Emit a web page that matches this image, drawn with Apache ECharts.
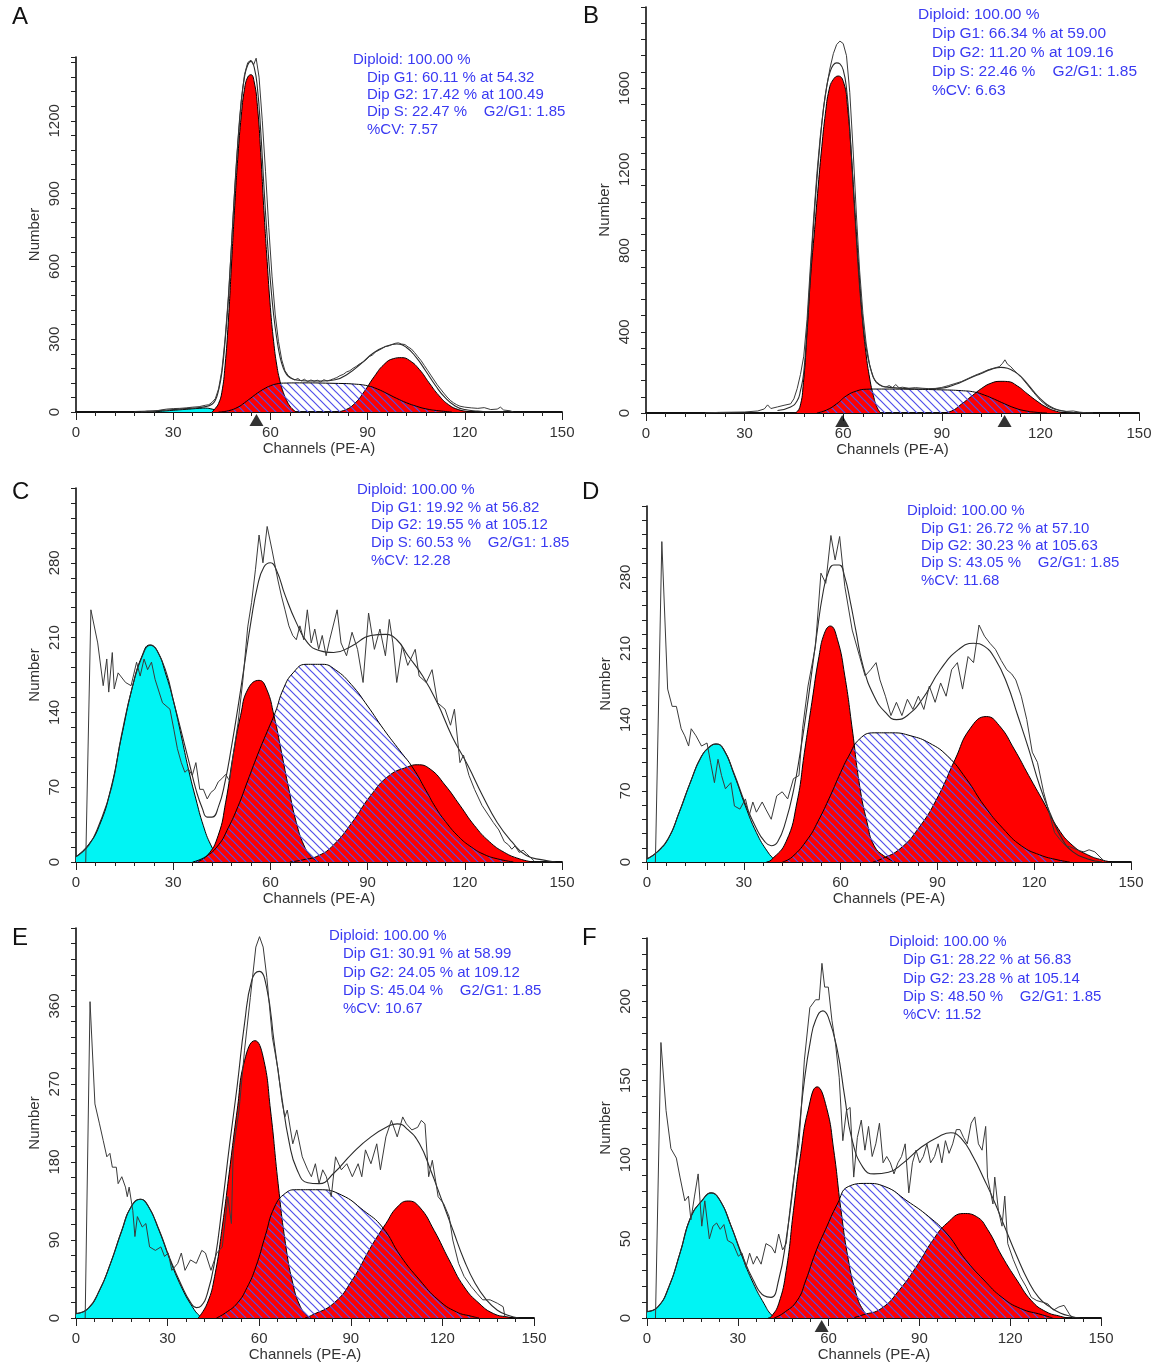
<!DOCTYPE html>
<html><head><meta charset="utf-8">
<script src="https://cdn.jsdelivr.net/npm/echarts@6/dist/echarts.min.js"></script>
<style>html,body{margin:0;padding:0;background:#fff}#c{width:1156px;height:1364px}</style>
</head><body><div id="c"></div>
<script>
// ---------------- DATA (channel, count) ----------------
const xTicks = [0, 30, 60, 90, 120, 150];

// Panel A
const A_debris = [[22,0],[26,3],[30,7],[34,11],[38,15],[40,16],[42,12],[44,5],[46,0]];
const A_g1 = [[42,0],[43,15],[44,35],[45,80],[46,190],[47,370],[48,610],[49,850],[50,1060],[51,1220],[52,1330],[53,1380],[54,1390],[55,1360],[56,1260],[57,1070],[58,830],[59,620],[60,430],[61,290],[62,190],[63,125],[64,80],[65,48],[66,25],[67,10],[68,0]];
const A_s = [[44,0],[47,5],[50,20],[52,38],[54,58],[56,78],[58,95],[60,108],[62,116],[64,119],[70,120],[80,118],[86,115],[90,108],[93,95],[96,76],[99,56],[102,38],[105,24],[108,13],[112,5],[116,0]];
const A_g2 = [[80,0],[83,8],[86,35],[89,85],[92,145],[95,195],[98,220],[100.5,224],[103,212],[106,175],[109,120],[112,68],[115,30],[118,10],[121,2],[123,0]];
const A_fit = [[18,2],[24,5],[30,10],[36,16],[40,22],[42,32],[43,48],[44,90],[45,160],[46,290],[47,460],[48,690],[49,920],[50,1120],[51,1280],[52,1380],[53,1430],[54,1445],[55,1420],[56,1335],[57,1160],[58,930],[59,720],[60,540],[61,400],[62,300],[63,225],[64,180],[65,155],[66,142],[68,132],[72,128],[76,128],[80,133],[84,158],[88,200],[92,245],[96,272],[99,280],[102,266],[105,225],[108,168],[111,108],[114,58],[117,25],[120,10],[124,4],[128,1],[132,0]];
const A_raw = [[20,0],[22,3],[24,2],[26,8],[28,12],[30,14],[32,15],[34,17],[36,20],[38,22],[40,28],[41,30],[42,40],[43,55],[44,95],[45,170],[46,300],[47,470],[48,690],[49,920],[50,1120],[51,1280],[52,1390],[53,1440],[54,1450],[54.8,1430],[55.6,1458],[56.5,1380],[57.5,1200],[58.5,990],[59.5,760],[60.5,560],[61.5,400],[62.5,290],[63.5,215],[64.5,170],[65.5,150],[66.5,140],[67.5,132],[68.5,138],[69.5,128],[70.5,135],[71.5,125],[72.5,132],[73.5,127],[74.5,131],[75.5,124],[76.5,133],[77.5,128],[78.5,132],[79.5,137],[80.5,142],[81.5,150],[82.5,155],[83.5,165],[84.5,170],[85.5,180],[86.5,188],[87.5,198],[88.5,205],[89.5,215],[90.5,228],[91.5,235],[92.5,248],[93.5,255],[94.5,262],[95.5,270],[96.5,272],[97.5,278],[98.5,283],[99.5,285],[100.5,280],[101.5,278],[102.5,268],[103.5,260],[104.5,245],[105.5,228],[106.5,212],[107.5,192],[108.5,172],[109.5,152],[110.5,132],[111.5,112],[112.5,95],[113.5,78],[114.5,62],[115.5,48],[116.5,38],[117.5,30],[118.5,24],[120,20],[122,17],[124,15],[126,18],[128,10],[130,12],[131,20],[132,8],[134,5],[135,0]];
const A_marks = [55.7];
const A_text = ["Diploid: 100.00 %","Dip G1: 60.11 % at 54.32","Dip G2: 17.42 % at 100.49","Dip S: 22.47 %    G2/G1: 1.85","%CV: 7.57"];

// Panel B
const B_debris = [];
const B_g1 = [[45.5,0],[46.8,28],[47.9,150],[49,396],[50.1,675],[51.3,904],[52.4,1117],[53.5,1313],[54.6,1477],[55.7,1592],[56.9,1641],[58.5,1660],[60.2,1625],[61.3,1510],[62.5,1264],[63.6,986],[64.7,724],[65.8,478],[66.9,298],[68.1,167],[69.2,85],[70.3,28],[71.4,0]];
const B_s = [[52,0],[55,15],[58,45],[61,85],[64,108],[67,117],[70,118],[80,117],[90,114],[96,110],[100,103],[103,88],[106,68],[109,46],[112,26],[115,12],[119,3],[122,0]];
const B_g2 = [[90,0],[93,10],[96,44],[99,82],[102,120],[105,147],[108,156],[110,155],[113,133],[116,95],[119,58],[122,27],[125,8],[128,0]];
const B_fit = [[40,12],[44,30],[46,60],[47,110],[48,200],[49,420],[50,680],[51,930],[52,1150],[53,1340],[54,1500],[55,1610],[56,1680],[57,1715],[58,1725],[59,1720],[60,1690],[61,1600],[62,1400],[63,1130],[64,860],[65,620],[66,440],[67,320],[68,240],[69,185],[70,155],[72,132],[75,125],[80,120],[85,118],[90,122],[94,140],[98,168],[102,195],[105,215],[108,225],[110,220],[112,205],[114,180],[116,145],[118,105],[120,70],[122,42],[124,24],[126,13],[128,6],[132,1]];
const B_raw = [[18,0],[22,3],[26,4],[30,5],[34,10],[36,20],[37,40],[38,22],[40,30],[42,38],[44,45],[45,70],[46,120],[47,190],[48,280],[49,460],[50,720],[51,960],[52,1180],[53,1360],[54,1500],[55,1610],[56,1700],[57,1770],[58,1815],[59,1832],[60,1820],[61,1760],[62,1580],[63,1300],[64,980],[65,700],[66,490],[67,340],[68,240],[69,180],[70,150],[71,138],[72,130],[73,128],[74,135],[75,125],[76,140],[77,124],[78,127],[80,122],[82,125],[84,122],[86,120],[88,121],[90,126],[92,135],[94,145],[96,155],[98,170],[100,185],[102,198],[104,212],[106,222],[107.5,228],[108.5,245],[109.2,262],[110,240],[111,228],[112,210],[114,180],[116,140],[118,100],[120,62],[122,35],[124,20],[126,12],[128,8],[130,10],[132,4],[134,1],[136,0]];
const B_marks = [59.7, 109.1];
const B_text = ["Diploid: 100.00 %","Dip G1: 66.34 % at 59.00","Dip G2: 11.20 % at 109.16","Dip S: 22.46 %    G2/G1: 1.85","%CV: 6.63"];

// Panel C
const C_debris = [[0,5],[3.8,16],[7.2,34],[10.7,68],[14.1,118],[17.5,165],[20.4,193],[22.7,203],[25,198],[27.9,174],[30.2,149],[32.5,118],[34.7,87],[37,59],[39.3,34],[41.6,16],[43.9,5],[46,0]];
const C_g1 = [[37,0],[40.5,6],[43.9,25],[46.2,56],[48.5,100],[50.8,137],[53.1,162],[56.5,170],[58.8,162],[61.1,137],[63.4,103],[65.7,68],[68,37],[70.3,16],[72.6,5],[75,0]];
const C_s = [[36,0],[40,5],[44,16],[47,32],[50,52],[53,76],[56,100],[59,122],[61.5,140],[64,162],[67,177],[71,185],[76,185],[80,180],[85,166],[90,146],[95,124],[100,104],[104,88],[108,67],[111,51],[114,38],[118,24],[122,14],[126,7],[130,3],[135,0]];
const C_g2 = [[66,0],[70,2],[74.9,6],[79.5,16],[85.2,37],[90.9,62],[96.7,81],[102.4,89],[105.3,91],[109.3,87],[113.9,72],[118.5,53],[123,34],[127.6,19],[132.2,9],[136.8,3],[141,0]];
const C_fit = [[0,5],[4,16],[7,34],[11,70],[14,118],[17.5,165],[20.5,193],[23,203],[25,198],[28,176],[30,152],[32.5,122],[35,92],[37,68],[39,50],[40.5,42],[42,42],[44,52],[46,75],[48,108],[50,145],[52,185],[54,225],[56,258],[58,276],[60,280],[62,272],[64.5,250],[68,224],[71.5,205],[75,198],[79.5,196],[85,202],[91,212],[95.5,213],[99,208],[102.5,193],[107,174],[111.5,149],[116,118],[121,90],[125.5,62],[130,37],[134.5,19],[139,6],[144,2],[148,0]];
const C_raw = [[3,0],[4.6,236],[6.7,205],[8.4,165],[9.5,190],[10.1,159],[11.2,196],[11.8,162],[13,177],[15.3,168],[17,165],[18.7,187],[19.8,174],[21,190],[22.1,180],[23.3,187],[24.4,171],[26.7,149],[29,143],[30.2,124],[31.3,106],[32.5,93],[33.6,84],[34.7,87],[35.9,81],[37,93],[38.2,68],[39.3,68],[40.5,59],[41.6,65],[42.8,68],[43.9,75],[45,78],[46.2,82],[47.4,76],[48.5,100],[50,130],[51.5,170],[53,220],[54.2,243],[55.4,274],[56.5,306],[57.7,280],[59,314],[60.5,292],[62.3,264],[63.4,249],[64.5,236],[65.7,221],[66.9,212],[68,208],[69.1,221],[70.3,208],[71.4,236],[72.6,205],[73.7,218],[74.9,199],[76,212],[77.2,193],[78.3,208],[80.6,236],[81.8,205],[83.5,193],[85.2,215],[86.9,199],[88.6,168],[90.3,233],[92.1,199],[93.8,218],[95.5,193],[96.7,227],[97.8,205],[99,168],[100.7,202],[102.4,184],[104.7,199],[105.9,174],[108.1,168],[109.9,180],[111.6,149],[113.9,143],[115.6,128],[116.8,143],[118.5,93],[119.6,100],[121.3,81],[123,68],[125.3,53],[128.8,37],[130.5,30],[132.2,19],[133.5,16],[134.5,12],[135.5,15],[136.8,9],[138,11],[139,8],[141.4,1]];
const C_marks = [];
const C_text = ["Diploid: 100.00 %","Dip G1: 19.92 % at 56.82","Dip G2: 19.55 % at 105.12","Dip S: 60.53 %    G2/G1: 1.85","%CV: 12.28"];

// Panel D
const D_debris = [[0,3],[3.2,10],[6.6,23],[10,49],[13.4,78],[16.9,104],[19.7,114],[21.4,116],[23.7,111],[27.1,85],[30.5,55],[33.9,29],[37.4,10],[39.7,2],[41,0]];
const D_g1 = [[37,0],[38.5,2],[43.1,20],[46.5,59],[48.8,108],[51.1,157],[53.3,202],[55,225],[56.8,232],[59,219],[61.3,183],[63.6,131],[65.9,75],[68.2,39],[70.4,16],[73.9,5],[77,0]];
const D_s = [[42,0],[45,5],[49.9,23],[53,40],[56.8,65],[60,88],[62.5,104],[65.9,121],[70.4,127],[76.1,127],[81.8,124],[87.5,117],[93.2,104],[98.9,82],[104.6,55],[110.3,33],[116,16],[121.7,7],[127.4,2],[131,0]];
const D_g2 = [[70,0],[72.7,3],[78.4,13],[84.1,33],[89.8,62],[95.5,101],[100.1,131],[105.2,143],[109.2,134],[113.8,111],[118.3,85],[122.9,59],[127.4,33],[132,16],[136.6,7],[141,2],[144,0]];
const D_fit = [[0,3],[3.2,10],[6.6,23],[10,49],[13.4,78],[16.9,104],[19.7,114],[21.4,116],[23.7,111],[27.1,86],[30.5,57],[33.9,33],[36.5,20],[38.5,16],[40.5,20],[43,40],[45.5,72],[47.6,110],[49.5,150],[51,185],[52.8,228],[54.4,262],[56,283],[57.9,292],[59.6,292],[61.3,280],[63,256],[64.7,228],[67,192],[70.4,163],[73.9,147],[77.3,140],[80.7,144],[85.3,160],[90.9,189],[96.6,209],[101.2,215],[104.6,212],[108,199],[111.5,176],[114.9,144],[118.3,111],[121.7,75],[125.2,46],[128.6,23],[132,10],[136.6,3],[141,0]];
const D_raw = [[2.6,0],[4.6,315],[6.4,170],[7.8,153],[9.1,153],[10.6,131],[11.7,124],[12.9,114],[13.7,131],[15.2,124],[16.9,114],[18.6,117],[19.7,98],[20.9,78],[22,101],[23.1,85],[24.3,72],[26,78],[27.1,55],[28.8,52],[30.5,62],[31.7,46],[32.8,59],[33.9,49],[35.7,59],[36.8,52],[38.5,42],[40.2,65],[41.9,69],[43.6,62],[45.4,82],[47.1,85],[48.2,131],[49.9,173],[52.2,212],[53.9,284],[55.4,274],[57,321],[58.3,297],[59.7,320],[61.3,271],[63.6,228],[65.9,202],[67.6,183],[69.3,189],[71,196],[72.2,179],[73.9,163],[75.6,144],[77.3,157],[79,144],[80.7,160],[82.4,150],[84.1,163],[85.8,150],[87.5,173],[89.3,157],[91,176],[92.7,163],[94.4,189],[96.2,196],[97.8,170],[99.5,202],[101.2,196],[102.9,233],[104.6,222],[106.3,215],[108,209],[109.8,198],[111.5,189],[113,185],[114.3,179],[116,163],[117.7,140],[119.4,108],[121,98],[122.9,69],[124.5,50],[126.3,29],[128,22],[129.7,16],[131,15],[132.6,13],[134,11],[135.4,10],[137,12],[138.8,10],[141,3],[142,0]];
const D_marks = [];
const D_text = ["Diploid: 100.00 %","Dip G1: 26.72 % at 57.10","Dip G2: 30.23 % at 105.63","Dip S: 43.05 %    G2/G1: 1.85","%CV: 11.68"];

// Panel E
const E_debris = [[0,5],[4,11],[7.7,32],[11.3,63],[15,101],[18,128],[21.1,137],[23.5,130],[27.2,101],[30.8,67],[34.5,36],[38.1,13],[40.6,2],[42,0]];
const E_g1 = [[40,0],[43,17],[45.4,48],[47.9,105],[50.3,171],[52.8,240],[55.2,297],[58.6,320],[61.3,301],[63.7,240],[66.2,155],[68.6,86],[71,40],[73.5,13],[75.9,2],[77,0]];
const E_s = [[46,0],[49,6],[52.8,17],[56,35],[58.9,59],[62,95],[65,128],[68.6,144],[72.3,148],[79.6,148],[86.9,142],[94.2,124],[100.3,105],[106.4,71],[112.5,44],[118.6,21],[124.6,7],[129.5,2],[132,0]];
const E_g2 = [[75,0],[77.1,3],[84.4,17],[90.5,44],[96.6,82],[101.5,109],[105.2,128],[108.8,135],[112.5,128],[117.3,101],[122.2,67],[127.1,36],[132,17],[136.8,5],[141.7,1],[144,0]];
const E_fit = [[0,5],[4,11],[7.7,32],[11.3,63],[15,101],[18,128],[21.1,137],[23.5,130],[27.2,102],[30.8,68],[34.5,38],[37.5,18],[39.4,12],[41,14],[43,28],[45.4,65],[47.9,130],[50.3,200],[52.8,268],[55.2,340],[57.6,390],[60,400],[62.5,380],[64.9,318],[67.4,255],[69.8,203],[72.3,172],[75.9,156],[79.6,155],[84.4,167],[90.5,190],[96.6,209],[102.7,222],[105.2,224],[108.8,217],[112.5,201],[116.1,171],[119.8,136],[123.5,101],[127.1,67],[130.7,40],[134.4,21],[138,9],[141.7,3],[145,0]];
const E_raw = [[3,0],[4.6,365],[6.2,247],[7.7,224],[8.9,205],[10.1,186],[11.1,190],[11.9,174],[13.2,174],[13.8,155],[15,163],[16.2,151],[16.8,140],[17.4,151],[18.6,124],[19.3,94],[20.1,117],[21.7,105],[22.9,109],[24.1,82],[26,78],[27.8,82],[29,71],[30.2,75],[31.4,55],[33.3,63],[34.5,75],[35.7,55],[37.5,67],[39.4,63],[41.2,78],[42.4,75],[44.2,55],[46.1,75],[47.9,82],[49.7,140],[50.9,109],[51.5,194],[53.4,240],[55.2,309],[57.1,370],[58.9,428],[60.1,440],[61.3,428],[62.5,393],[64.3,324],[66.2,286],[67.4,251],[68.4,232],[69.2,240],[71,201],[72.3,217],[74.1,186],[75.9,171],[77.1,163],[78.4,178],[79.6,155],[80.8,171],[82,163],[83.6,140],[85,186],[86.9,171],[88.7,178],[90.5,163],[92.4,178],[93.6,163],[94.8,194],[96.6,178],[98.5,201],[99.7,171],[101.5,209],[103.3,228],[105.2,209],[107,232],[108.2,224],[110,217],[111.9,220],[113.1,228],[114.3,224],[115.5,163],[116.7,182],[118.6,140],[120.4,132],[122.2,117],[123.4,90],[125.3,63],[127.1,48],[129.5,36],[131.4,28],[133.2,21],[135.6,21],[138,17],[139.9,13],[140.5,1]];
const E_marks = [];
const E_text = ["Diploid: 100.00 %","Dip G1: 30.91 % at 58.99","Dip G2: 24.05 % at 109.12","Dip S: 45.04 %    G2/G1: 1.85","%CV: 10.67"];

// Panel F
const F_debris = [[0,4],[3.6,7],[7.3,20],[10.9,41],[14.5,64],[18.1,74],[21.2,79],[24.2,74],[27.8,58],[31.4,39],[35.1,22],[38.7,9],[41.1,2],[43,0]];
const F_g1 = [[40,0],[41.1,1],[43.5,9],[46,30],[48.4,68],[50.8,104],[53.2,131],[56.2,146],[59.3,133],[61.7,106],[64.1,68],[66.5,37],[69,16],[71.4,5],[73.8,0]];
const F_s = [[42,0],[45,3],[49.6,11],[52.5,24],[55.6,41],[59,56],[62.9,72],[66.5,83],[72.6,85],[78.6,83],[85.9,74],[93.1,64],[99.2,53],[105.2,37],[111.3,24],[117.3,13],[123.4,6],[130.6,2],[134,0]];
const F_g2 = [[68,0],[71.4,2],[77.4,6],[83.5,18],[89.5,34],[94.4,49],[99.2,60],[104.6,66],[108.9,64],[112.5,56],[117.3,39],[122.2,24],[127,11],[131.8,4],[136.7,1],[139,0]];
const F_fit = [[0,4],[3.6,7],[7.3,20],[10.9,41],[14.5,64],[18.1,74],[21.2,79],[24.2,74],[27.8,58],[31.4,40],[35.1,24],[38.7,14],[41,13],[43.5,24],[46,50],[48.4,85],[50.2,118],[52,150],[54,175],[55.7,188],[58.1,194],[59.9,190],[62.9,169],[65.3,140],[67.7,113],[71.4,95],[75,91],[79.8,92],[84.7,98],[90.7,108],[96.8,115],[100.4,117],[104,113],[107.7,102],[111.3,88],[114.9,73],[118.5,56],[122.2,39],[125.8,24],[129.4,13],[133.1,7],[136.7,3],[140.3,1],[143,0]];
const F_raw = [[2.8,0],[4.6,174],[6.3,131],[7.9,107],[9.7,101],[10.9,89],[12.5,74],[13.7,77],[14.5,62],[15.7,77],[16.9,91],[18.1,58],[19.1,74],[20.6,50],[21.8,58],[23,60],[24.2,56],[25.4,59],[26.6,49],[28.4,47],[30.2,39],[31.4,41],[32.7,32],[33.9,41],[35.1,34],[36.3,39],[37.7,34],[39.3,47],[41.1,45],[42.3,41],[43.5,53],[44.8,43],[46,47],[47.2,68],[48.4,87],[50.2,110],[52,163],[53.8,196],[55.7,201],[56.9,201],[57.8,224],[58.7,209],[59.9,209],[61.1,188],[62.3,173],[63.5,152],[64.7,112],[65.9,131],[67.1,133],[68.3,89],[69.5,114],[70.8,125],[72,106],[73.2,121],[74.4,102],[75.6,110],[76.8,123],[78,98],[79.2,102],[80.4,98],[81.6,91],[82.9,98],[84.1,102],[85.3,110],[86.5,79],[87.7,98],[88.9,106],[90.1,98],[91.3,102],[92.5,110],[93.7,98],[95,102],[96.2,110],[97.4,98],[98.6,112],[99.8,104],[101,110],[102.2,119],[103.4,119],[104.6,114],[105.8,110],[107.1,123],[108.3,127],[109.5,110],[110.7,106],[111.9,121],[112.5,89],[114.3,72],[114.9,89],[116.1,68],[117.3,58],[118.2,77],[119.2,47],[121,37],[123.4,26],[125.2,20],[127,13],[128.8,11],[130.6,10],[132.4,9],[134.3,5],[136.1,7],[137.8,8],[139.7,2],[140.9,0]];
const F_marks = [57.7];
const F_text = ["Diploid: 100.00 %","Dip G1: 28.22 % at 56.83","Dip G2: 23.28 % at 105.14","Dip S: 48.50 %    G2/G1: 1.85","%CV: 11.52"];

// ---------------- LAYOUT ----------------
const panels = [
  {id:'A', grid:{left:76, top:57, width:486, height:355}, ymax:1463, ystep:300, yminor:60,
   d:[A_debris,A_g1,A_s,A_g2,A_fit,A_raw], marks:A_marks, text:A_text, tx:353, ty:60, lh:17.4, fs:15, lx:12, ly:17},
  {id:'B', grid:{left:646, top:7, width:493, height:406}, ymax:2000, ystep:400, yminor:80,
   d:[B_debris,B_g1,B_s,B_g2,B_fit,B_raw], marks:B_marks, text:B_text, tx:918, ty:15, lh:19, fs:15.5, lx:583, ly:16},
  {id:'C', grid:{left:76, top:488, width:486, height:374}, ymax:350, ystep:70, yminor:14,
   d:[C_debris,C_g1,C_s,C_g2,C_fit,C_raw], marks:C_marks, text:C_text, tx:357, ty:490, lh:17.6, fs:15, lx:12, ly:492},
  {id:'D', grid:{left:647, top:506, width:484, height:356}, ymax:350, ystep:70, yminor:14,
   d:[D_debris,D_g1,D_s,D_g2,D_fit,D_raw], marks:D_marks, text:D_text, tx:907, ty:511, lh:17.4, fs:15, lx:582, ly:492},
  {id:'E', grid:{left:76, top:928, width:458, height:390}, ymax:450, ystep:90, yminor:18,
   d:[E_debris,E_g1,E_s,E_g2,E_fit,E_raw], marks:E_marks, text:E_text, tx:329, ty:936, lh:18.2, fs:15, lx:12, ly:938},
  {id:'F', grid:{left:647, top:938, width:454, height:380}, ymax:240, ystep:50, yminor:10,
   d:[F_debris,F_g1,F_s,F_g2,F_fit,F_raw], marks:F_marks, text:F_text, tx:889, ty:942, lh:18.2, fs:15, lx:582, ly:938}
];

const FONT = '"Liberation Sans", Arial, sans-serif';
const BLUE = '#3a3af2';
const RED = '#ff0000';
const CYAN = '#00f4f4';

function makeHatch(){
  const c = document.createElement('canvas');
  const n = 8; c.width = n; c.height = n;
  const g = c.getContext('2d');
  g.strokeStyle = '#5050ea'; g.lineWidth = 1.2;
  g.beginPath();
  g.moveTo(-1,-1); g.lineTo(n+1,n+1);
  g.moveTo(n-1,-1); g.lineTo(n+1,1);
  g.moveTo(-1,n-1); g.lineTo(1,n+1);
  g.stroke();
  return c;
}
const hatch = makeHatch();

const grids = [], xAxes = [], yAxes = [], series = [], graphics = [];
panels.forEach((p, i) => {
  grids.push(Object.assign({containLabel:false, outerBoundsMode:'none'}, p.grid));
  xAxes.push({
    type:'value', gridIndex:i, min:0, max:150, interval:30,
    axisLine:{onZero:false, lineStyle:{color:'#111', width:1.8}},
    axisTick:{length:8, lineStyle:{color:'#222', width:1}},
    minorTick:{show:true, splitNumber:5, length:4, lineStyle:{color:'#222', width:1}},
    splitLine:{show:false}, minorSplitLine:{show:false},
    axisLabel:{margin:13, fontSize:15, color:'#333', fontFamily:FONT,
      formatter: v => xTicks.includes(v) ? String(v) : ''},
    name:'Channels (PE-A)', nameLocation:'middle', nameGap:29,
    nameTextStyle:{fontSize:15, color:'#333', fontFamily:FONT}
  });
  yAxes.push({
    type:'value', gridIndex:i, min:0, max:p.ymax, interval:p.yminor,
    axisLine:{show:true, lineStyle:{color:'#111', width:1.6}},
    axisTick:{show:true, length:5, lineStyle:{color:'#222', width:1}},
    splitLine:{show:false},
    axisLabel:{rotate:90, margin:14, fontSize:15, color:'#333', fontFamily:FONT,
      formatter: v => (Math.abs(v % p.ystep) < 1e-6 && v < p.ymax) ? String(v) : ''},
    name:'Number', nameLocation:'middle', nameGap:34,
    nameTextStyle:{fontSize:15, color:'#333', fontFamily:FONT}
  });
  const [deb, g1, s, g2, fit, raw] = p.d;
  const base = {type:'line', xAxisIndex:i, yAxisIndex:i, symbol:'none', animation:false, silent:true};
  const comp = (data, fill, z) => Object.assign({}, base, {
    data, smooth:0.5, z,
    lineStyle:{color:'#000', width:1}, areaStyle:{color:fill, opacity:1, origin:0}
  });
  if (deb.length) series.push(comp(deb, CYAN, 2));
  series.push(comp(g1, RED, 3));
  series.push(comp(g2, RED, 3));
  series.push(comp(s, {image:hatch, repeat:'repeat'}, 4));
  series.push(Object.assign({}, base, {data:fit, smooth:0.5, z:5,
    lineStyle:{color:'#2a2a2a', width:1.1}}));
  series.push(Object.assign({}, base, {data:raw, smooth:false, z:6,
    lineStyle:{color:'#3a3a3a', width:1}}));
  if (p.marks.length) {
    series.push({type:'scatter', xAxisIndex:i, yAxisIndex:i, clip:false, z:10, silent:true,
      symbol:'triangle', symbolSize:[14,12], symbolOffset:[0,8],
      itemStyle:{color:'#000'}, data:p.marks.map(m => [m, 0])});
  }
  graphics.push({type:'text', x:p.lx, y:p.ly, silent:true,
    style:{text:p.id, font:'24px ' + FONT, fill:'#111', verticalAlign:'middle', align:'left'}});
  p.text.forEach((t, k) => {
    graphics.push({type:'text', x:p.tx + (k ? 14 : 0), y:p.ty + k*p.lh, silent:true,
      style:{text:t, font:p.fs + 'px ' + FONT, fill:BLUE, verticalAlign:'middle', align:'left'}});
  });
});

const chart = echarts.init(document.getElementById('c'), null, {renderer:'canvas'});
chart.setOption({
  animation:false, backgroundColor:'#ffffff',
  grid:grids, xAxis:xAxes, yAxis:yAxes, series, graphic:graphics
});
</script></body></html>
